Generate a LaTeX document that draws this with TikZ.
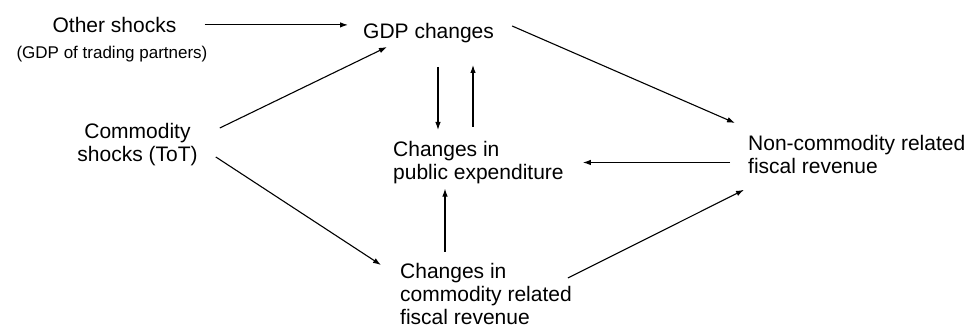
\documentclass[tikz,border=0pt]{standalone}
\usepackage{fontspec}
\setmainfont{Liberation Sans}
\usetikzlibrary{arrows.meta,positioning}

\begin{document}
\begin{tikzpicture}[x=1pt,y=1pt,
                txt/.style={inner sep=0pt,font=\fontsize{21}{23}\selectfont},
                arr/.style={-{Latex[length=8pt,width=5.5pt]},line width=1.1pt}]
                \useasboundingbox (0,0) rectangle (971,329);
                \node[txt,anchor=north] (other) at (114.5,312) {Other shocks};
                \node[inner sep=0pt,font=\fontsize{17}{20}\selectfont,anchor=north] (partners) at (112,283) {(GDP of trading partners)};
                \node[txt,anchor=north west] (gdp) at (363,306) {GDP changes};
                \node[txt,align=center,anchor=north] (comm) at (137.5,206) {Commodity\\shocks (ToT)};
                \node[txt,align=left,anchor=north west] (pub) at (393,188) {Changes in\\public expenditure};
                \node[txt,align=left,anchor=north west] (crev) at (400,66) {Changes in\\commodity related\\fiscal revenue};
                \node[txt,align=left,anchor=north west] (nrev) at (748,194) {Non-commodity related\\fiscal revenue};
                % arrows
                \draw[arr,shorten <=28pt,shorten >=15pt] (other.east) -- (other.east -| gdp.west);
                \draw[arr] ([shift={(22,-5)}]comm.north east) -- ([shift={(24,-4)}]gdp.south west);
                \draw[arr] ([shift={(18,9)}]comm.south east) -- ([shift={(-19,-2)}]crev.north west);
                \draw[arr] ([shift={(75,-24)}]gdp.south west) -- ([shift={(45,11)}]pub.north west);
                \draw[arr] ([shift={(80,14)}]pub.north west) -- ([shift={(110,-22)}]gdp.south west);
                \draw[arr] ([shift={(45,11)}]crev.north west) -- ([shift={(52,-4.6)}]pub.south west);
                \draw[arr] ([shift={(-4,-15)}]crev.north east) -- ([shift={(-4,-16)}]nrev.south west);
                \draw[arr] ([shift={(18,-3)}]gdp.north east) -- ([shift={(-13,12)}]nrev.north west);
                \draw[arr,shorten <=18pt,shorten >=19pt] (pub.east -| nrev.west) -- (pub.east);
\end{tikzpicture}
\end{document}
